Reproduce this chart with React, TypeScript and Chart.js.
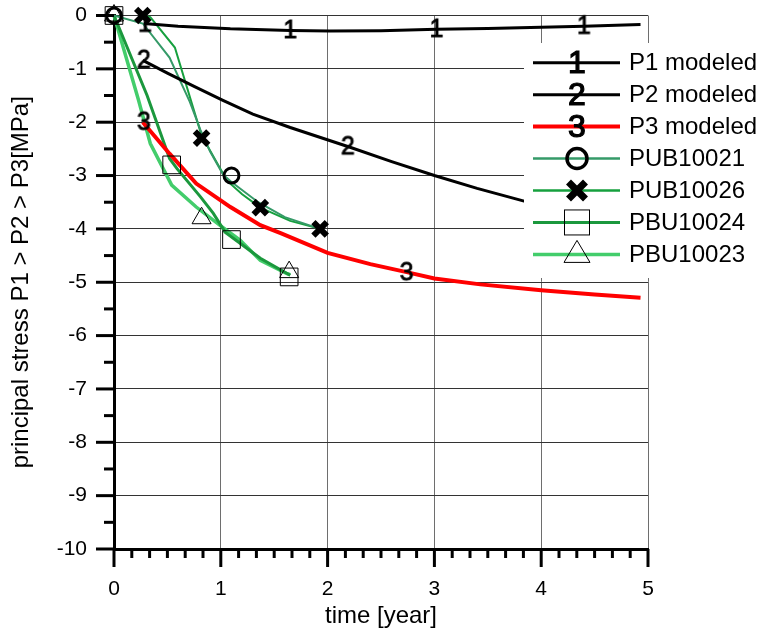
import React, { useEffect, useRef } from 'react';
import { Chart, registerables } from 'chart.js';

Chart.register(...registerables);

const FONT = 'Arial, "Liberation Sans", sans-serif';

// ---- axis ticks ----
const xMajorTicks = [0, 1, 2, 3, 4, 5];
const yMajorTicks = [0, -1, -2, -3, -4, -5, -6, -7, -8, -9, -10];
const xMinorStep = 1 / 6;
const yMinorStep = 0.5;

// ---- modeled series ----
const p1T = [0.28, 0.6, 1.09, 1.65, 2.02, 2.5, 3.02, 3.5, 4.0, 4.4, 4.93];
const p1Y = [-0.15, -0.2, -0.25, -0.28, -0.29, -0.285, -0.26, -0.245, -0.22, -0.2, -0.17];
const p1MarkT = [0.29, 1.65, 3.02, 4.4];
const p1MarkY = [-0.16, -0.28, -0.26, -0.2];

const p2T = [0.27, 0.5, 0.75, 1.02, 1.3, 1.65, 2.21, 2.6, 3.0, 3.4, 3.84, 4.4, 4.93];
const p2Y = [-0.84, -1.08, -1.33, -1.59, -1.85, -2.1, -2.47, -2.74, -3.0, -3.24, -3.48, -3.78, -4.05];
const p2MarkT = [0.28, 2.19];
const p2MarkY = [-0.84, -2.46];

const p3T = [0.27, 0.52, 0.77, 1.09, 1.37, 1.56, 2.0, 2.4, 2.74, 3.0, 3.43, 4.0, 4.5, 4.93];
const p3Y = [-2.0, -2.59, -3.15, -3.59, -3.93, -4.08, -4.45, -4.66, -4.81, -4.93, -5.04, -5.15, -5.23, -5.29];
const p3MarkT = [0.28, 2.74];
const p3MarkY = [-2.0, -4.82];

// ---- measured series ----
const pub10021T = [0, 0.27, 0.52, 0.71, 0.81, 0.9, 1.02, 1.1, 1.35, 1.6, 1.93];
const pub10021Y = [0, -0.15, -0.79, -1.62, -2.15, -2.55, -2.98, -3.12, -3.5, -3.78, -4.0];
const pub10021MarkT = [0, 1.1];
const pub10021MarkY = [0, -3.0];

const pub10026T = [0.27, 0.34, 0.57, 0.82, 1.06, 1.2, 1.37, 1.65, 1.93];
const pub10026Y = [0, -0.03, -0.6, -2.25, -3.1, -3.35, -3.6, -3.85, -4.0];
const pub10026MarkT = [0.27, 0.82, 1.37, 1.93];
const pub10026MarkY = [0, -2.3, -3.6, -4.0];

const pbu10024T = [0, 0.31, 0.52, 0.59, 0.81, 0.93, 1.04, 1.18, 1.37, 1.65];
const pbu10024Y = [0, -1.5, -2.68, -2.87, -3.4, -3.71, -4.06, -4.27, -4.55, -4.87];
const pbu10024MarkT = [0, 0.54, 1.1, 1.64];
const pbu10024MarkY = [0, -2.8, -4.2, -4.9];

const pbu10023T = [0, 0.23, 0.34, 0.54, 0.77, 0.99, 1.18, 1.37, 1.62, 1.65];
const pbu10023Y = [0, -1.59, -2.4, -3.18, -3.59, -3.93, -4.21, -4.59, -4.84, -4.86];
const pbu10023MarkT = [0, 0.82, 1.64];
const pbu10023MarkY = [0, -3.8, -4.81];

const seriesNames = ['P1 modeled', 'P2 modeled', 'P3 modeled', 'PUB10021', 'PUB10026', 'PBU10024', 'PBU10023'];

const COLORS = {
  p1: '#000000',
  p2: '#000000',
  p3: '#ff0000',
  pub10021: '#359a68',
  pub10026: '#16a03e',
  pbu10024: '#1b983d',
  pbu10023: '#43cd6b',
};

const pts = (t: number[], y: number[]) => t.map((v, i) => ({ x: v, y: y[i] }));

function digitImage(d: string, size: number) {
  const c = document.createElement('canvas');
  c.width = Math.round(size * 1.3);
  c.height = Math.round(size * 1.3);
  const ctx = c.getContext('2d')!;
  ctx.font = `${size}px ${FONT}`;
  ctx.textAlign = 'center';
  ctx.textBaseline = 'middle';
  ctx.fillStyle = '#000';
  ctx.strokeStyle = '#000';
  ctx.lineWidth = 0.8;
  ctx.fillText(d, c.width / 2, c.height / 2 + size * 0.04);
  ctx.strokeText(d, c.width / 2, c.height / 2 + size * 0.04);
  return c;
}

function drawMarker(ctx: CanvasRenderingContext2D, kind: string, x: number, y: number) {
  ctx.save();
  ctx.strokeStyle = '#000';
  ctx.fillStyle = '#000';
  if (kind === '1' || kind === '2' || kind === '3') {
    ctx.font = `32px ${FONT}`;
    ctx.textAlign = 'center';
    ctx.textBaseline = 'middle';
    ctx.lineWidth = 1.2;
    ctx.fillText(kind, x, y + 1.5);
    ctx.strokeText(kind, x, y + 1.5);
  } else if (kind === 'circle') {
    ctx.lineWidth = 3.5;
    ctx.beginPath();
    ctx.arc(x, y, 10, 0, Math.PI * 2);
    ctx.stroke();
  } else if (kind === 'x') {
    ctx.lineWidth = 7;
    const o = 8.5;
    ctx.beginPath();
    ctx.moveTo(x - o, y - o);
    ctx.lineTo(x + o, y + o);
    ctx.moveTo(x + o, y - o);
    ctx.lineTo(x - o, y + o);
    ctx.stroke();
  } else if (kind === 'rect') {
    ctx.lineWidth = 1;
    ctx.strokeRect(x - 12.5, y - 12.5, 25, 25);
  } else if (kind === 'tri') {
    ctx.lineWidth = 1;
    ctx.beginPath();
    ctx.moveTo(x, y - 14);
    ctx.lineTo(x + 13, y + 8);
    ctx.lineTo(x - 13, y + 8);
    ctx.closePath();
    ctx.stroke();
  }
  ctx.restore();
}

const legendRows = [
  { color: COLORS.p1, width: 3, marker: '1' },
  { color: COLORS.p2, width: 3, marker: '2' },
  { color: COLORS.p3, width: 4, marker: '3' },
  { color: COLORS.pub10021, width: 2.5, marker: 'circle' },
  { color: COLORS.pub10026, width: 2.5, marker: 'x' },
  { color: COLORS.pbu10024, width: 3, marker: 'rect' },
  { color: COLORS.pbu10023, width: 3.5, marker: 'tri' },
];

const decorPlugin = {
  id: 'decor',
  afterDraw(chart: any) {
    const { ctx, scales } = chart;
    const xs = scales.x;
    const ys = scales.y;
    const area = chart.chartArea;
    ctx.save();
    ctx.strokeStyle = '#000';
    ctx.lineWidth = 3;
    // y ticks
    for (let v = 0; v >= -10 - 1e-9; v -= yMinorStep) {
      const py = ys.getPixelForValue(v);
      const major = Math.abs(v - Math.round(v)) < 1e-6;
      ctx.beginPath();
      ctx.moveTo(area.left - (major ? 18 : 10), py);
      ctx.lineTo(area.left, py);
      ctx.stroke();
    }
    // x ticks
    for (let k = 0; k <= 30; k++) {
      const v = k * xMinorStep;
      const px = xs.getPixelForValue(v);
      const major = k % 6 === 0;
      ctx.beginPath();
      ctx.moveTo(px, area.bottom);
      ctx.lineTo(px, area.bottom + (major ? 18 : 9));
      ctx.stroke();
    }
    ctx.restore();

    // legend
    ctx.save();
    ctx.fillStyle = '#ffffff';
    ctx.fillRect(524, 43, 241, 235);
    legendRows.forEach((r, i) => {
      const y = 62.7 + i * 31.95;
      ctx.strokeStyle = r.color;
      ctx.lineWidth = r.width;
      ctx.beginPath();
      ctx.moveTo(533, y);
      ctx.lineTo(620, y);
      ctx.stroke();
      drawMarker(ctx, r.marker, 577, y);
      ctx.fillStyle = '#000';
      ctx.font = `24px ${FONT}`;
      ctx.textAlign = 'left';
      ctx.textBaseline = 'middle';
      ctx.fillText(seriesNames[i], 629, y + 1);
    });
    ctx.restore();
  },
};

export default function App() {
  const ref = useRef<HTMLCanvasElement>(null);

  useEffect(() => {
    const canvas = ref.current!;
    const img1 = digitImage('1', 25);
    const img2 = digitImage('2', 25);
    const img3 = digitImage('3', 25);

    const lineDs = (label: string, t: number[], y: number[], color: string, width: number) => ({
      label,
      data: pts(t, y),
      showLine: true,
      borderColor: color,
      backgroundColor: color,
      borderWidth: width,
      pointRadius: 0,
      tension: 0,
      clip: false as any,
    });
    const markDs = (label: string, t: number[], y: number[], style: any, radius: number, bw: number) => ({
      label,
      data: pts(t, y),
      showLine: false,
      pointStyle: style,
      pointRadius: radius,
      pointBorderColor: '#000',
      pointBackgroundColor: 'rgba(0,0,0,0)',
      pointBorderWidth: bw,
      clip: false as any,
    });

    const chart = new Chart(canvas, {
      type: 'scatter',
      data: {
        datasets: [
          markDs('P1 marks', p1MarkT, p1MarkY, img1, 10, 1),
          markDs('P2 marks', p2MarkT, p2MarkY, img2, 10, 1),
          markDs('P3 marks', p3MarkT, p3MarkY, img3, 10, 1),
          markDs('PUB10026 marks', pub10026MarkT, pub10026MarkY, 'crossRot', 9.5, 6),
          markDs('PUB10021 marks', pub10021MarkT, pub10021MarkY, 'circle', 7.5, 3),
          markDs('PBU10024 marks', pbu10024MarkT, pbu10024MarkY, 'rect', 12.5, 1),
          markDs('PBU10023 marks', pbu10023MarkT, pbu10023MarkY, 'triangle', 11, 1),
          lineDs(seriesNames[0], p1T, p1Y, COLORS.p1, 3),
          lineDs(seriesNames[1], p2T, p2Y, COLORS.p2, 3),
          lineDs(seriesNames[2], p3T, p3Y, COLORS.p3, 4),
          lineDs(seriesNames[3], pub10021T, pub10021Y, COLORS.pub10021, 2),
          lineDs(seriesNames[4], pub10026T, pub10026Y, COLORS.pub10026, 2),
          lineDs(seriesNames[5], pbu10024T, pbu10024Y, COLORS.pbu10024, 3),
          lineDs(seriesNames[6], pbu10023T, pbu10023Y, COLORS.pbu10023, 3.5),
        ] as any,
      },
      options: {
        responsive: false,
        animation: false,
        events: [],
        layout: { padding: { top: 15, right: 117, bottom: 0, left: 0 } },
        plugins: {
          legend: { display: false },
          tooltip: { enabled: false },
        },
        scales: {
          x: {
            type: 'linear',
            min: 0,
            max: 5,
            afterBuildTicks: (s: any) => {
              s.ticks = xMajorTicks.map((v) => ({ value: v }));
            },
            afterFit: (s: any) => {
              s.height = 82;
              s.paddingLeft = 0;
              s.paddingRight = 0;
            },
            ticks: {
              color: '#000',
              padding: 28,
              maxRotation: 0,
              font: { family: FONT, size: 21 },
            },
            grid: { color: '#6e6e6e', lineWidth: 1, drawTicks: false },
            border: { display: true, color: '#000', width: 3 },
            title: {
              display: true,
              text: 'time [year]',
              color: '#000',
              font: { family: FONT, size: 24 },
              padding: { top: 0, bottom: 0 },
            },
          },
          y: {
            type: 'linear',
            min: -10,
            max: 0,
            afterBuildTicks: (s: any) => {
              s.ticks = yMajorTicks.map((v) => ({ value: v }));
            },
            afterFit: (s: any) => {
              s.width = 114;
              s.paddingTop = 0;
              s.paddingBottom = 0;
            },
            ticks: {
              color: '#000',
              padding: 27,
              font: { family: FONT, size: 21 },
            },
            grid: { color: '#333333', lineWidth: 1, drawTicks: false },
            border: { display: true, color: '#000', width: 3 },
            title: {
              display: true,
              text: 'principal stress P1 > P2 > P3[MPa]',
              color: '#000',
              font: { family: FONT, size: 24 },
              padding: { top: 7, bottom: 0 },
            },
          },
        },
      } as any,
      plugins: [decorPlugin],
    });
    return () => chart.destroy();
  }, []);

  return (
    <div style={{ position: 'fixed', left: 0, top: 0, width: 765, height: 631, background: '#fff' }}>
      <canvas ref={ref} width={765} height={631} style={{ display: 'block', width: 765, height: 631 }} />
    </div>
  );
}
